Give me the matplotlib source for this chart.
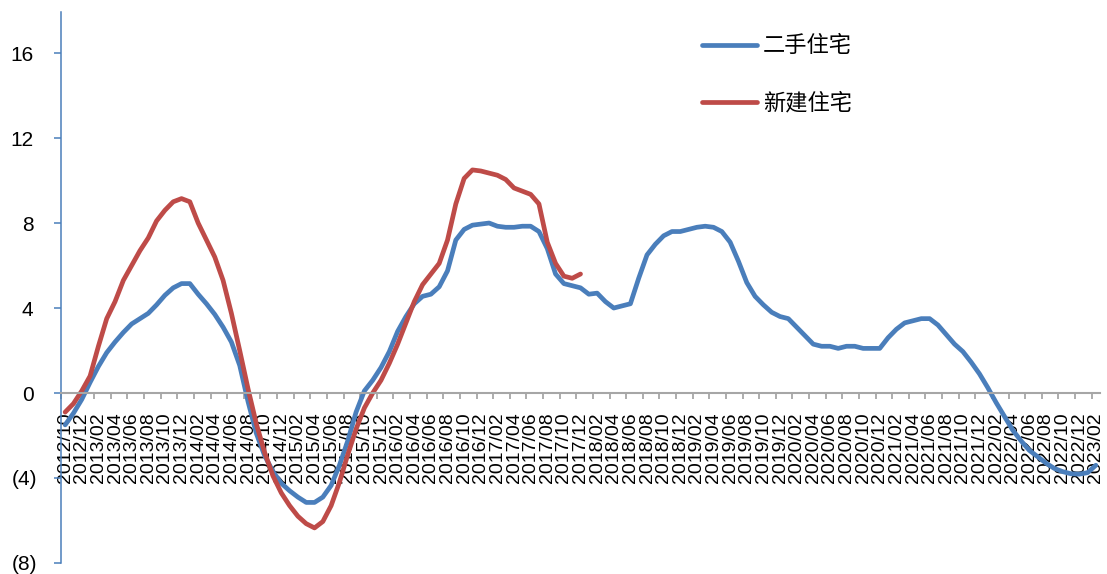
import matplotlib
matplotlib.use("Agg")
import matplotlib.pyplot as plt
import matplotlib.transforms as mtransforms
import numpy as np

# monthly, 2012/10 .. 2023/02
months = [f"{2012 + (9 + k) // 12}/{(9 + k) % 12 + 1:02d}" for k in range(125)]

second_hand = [
    -1.5, -0.95, -0.3, 0.5, 1.25, 1.9, 2.4, 2.85, 3.25, 3.5,
    3.75, 4.15, 4.6, 4.95, 5.15, 5.15, 4.65, 4.2, 3.7, 3.1,
    2.4, 1.3, -0.4, -1.9, -2.95, -3.7, -4.25, -4.6, -4.9, -5.15,
    -5.15, -4.9, -4.35, -3.4, -2.25, -0.9, 0.1, 0.6, 1.2, 1.95,
    2.9, 3.6, 4.2, 4.55, 4.65, 5.0, 5.75, 7.2, 7.7, 7.9,
    7.95, 8.0, 7.85, 7.8, 7.8, 7.85, 7.85, 7.6, 6.8, 5.6,
    5.15, 5.05, 4.95, 4.65, 4.7, 4.3, 4.0, 4.1, 4.2, 5.4,
    6.5, 7.0, 7.4, 7.6, 7.6, 7.7, 7.8, 7.85, 7.8, 7.6,
    7.1, 6.2, 5.2, 4.55, 4.15, 3.8, 3.6, 3.5, 3.1, 2.7,
    2.3, 2.2, 2.2, 2.1, 2.2, 2.2, 2.1, 2.1, 2.1, 2.6,
    3.0, 3.3, 3.4, 3.5, 3.5, 3.2, 2.75, 2.3, 1.95, 1.45,
    0.9, 0.25, -0.45, -1.1, -1.75, -2.25, -2.7, -3.0, -3.3, -3.55,
    -3.7, -3.8, -3.82, -3.75, -3.4,
]

new_built = [
    -0.9, -0.5, 0.1, 0.8, 2.2, 3.5, 4.3, 5.3, 6.0, 6.7,
    7.3, 8.1, 8.6, 9.0, 9.15, 9.0, 8.0, 7.2, 6.4, 5.3,
    3.75, 2.0, 0.2, -1.45, -2.8, -3.9, -4.7, -5.3, -5.8, -6.15,
    -6.35, -6.05, -5.3, -4.2, -2.9, -1.7, -0.7, 0.0, 0.6, 1.4,
    2.3, 3.3, 4.3, 5.1, 5.6, 6.1, 7.2, 8.9, 10.1, 10.5,
    10.45, 10.35, 10.25, 10.05, 9.65, 9.5, 9.35, 8.9, 7.1, 6.1,
    5.5, 5.4, 5.6,
]

series_names = ["二手住宅", "新建住宅"]
series_colors = ["#4A7EBB", "#BE4B48"]
y_ticks = [-8, -4, 0, 4, 8, 12, 16]

plt.rcParams["font.family"] = ["Liberation Sans", "DejaVu Sans"]

fig = plt.figure(figsize=(11.07, 5.74), dpi=100)
ax = fig.add_axes([0.0551, 0.0192, 0.9386, 0.9598])

ax.plot(np.arange(len(second_hand)), second_hand, color=series_colors[0], lw=3.4,
        solid_capstyle="round", solid_joinstyle="round", label=series_names[0])
ax.plot(np.arange(len(new_built)), new_built, color=series_colors[1], lw=3.4,
        solid_capstyle="round", solid_joinstyle="round", label=series_names[1])

ax.set_xlim(-0.5, len(months) - 0.5)
ax.set_ylim(-8, 17.93)

# category axis sits at y=0; tick marks between categories, labels every 2 months
ax.spines["bottom"].set_position(("data", 0))
ax.spines["bottom"].set_color("#A6A6A6")
ax.spines["bottom"].set_linewidth(1.5)
ax.spines["left"].set_color("#4A7EBB")
ax.spines["left"].set_linewidth(1.1)
ax.spines["top"].set_visible(False)
ax.spines["right"].set_visible(False)

ax.set_xticks(np.arange(-0.5, len(months) - 1, 2))
ax.set_xticklabels([])
ax.tick_params(axis="x", which="major", length=4, width=1.3, color="#A6A6A6",
               direction="out")
ax.set_xticks(np.arange(0, len(months), 2), minor=True)
ax.set_xticklabels(months[::2], minor=True, rotation=90, fontsize=14)
ax.tick_params(axis="x", which="minor", length=0, pad=14)

# accounting-style labels: negatives in brackets, positives leave room for ")"
ax.set_yticks(y_ticks)
ax.set_yticklabels([f"({-v})" if v < 0 else f"{v}" for v in y_ticks])
ax.tick_params(axis="y", length=5, width=1.1, color="#4A7EBB", direction="out",
               labelsize=15, pad=12)
shift = mtransforms.ScaledTranslation(-4 / 100, 0, fig.dpi_scale_trans)
for lab, v in zip(ax.get_yticklabels(), y_ticks):
    if v >= 0:
        lab.set_transform(lab.get_transform() + shift)

ax.legend(loc="upper left", bbox_to_anchor=(0.616, 0.975),
          bbox_transform=fig.transFigure, frameon=False,
          prop={"family": ["Noto Sans CJK SC", "DejaVu Sans"], "size": 16},
          handlelength=2.5, handletextpad=0.25, labelspacing=1.55)

fig.savefig("out.png", dpi=100)
